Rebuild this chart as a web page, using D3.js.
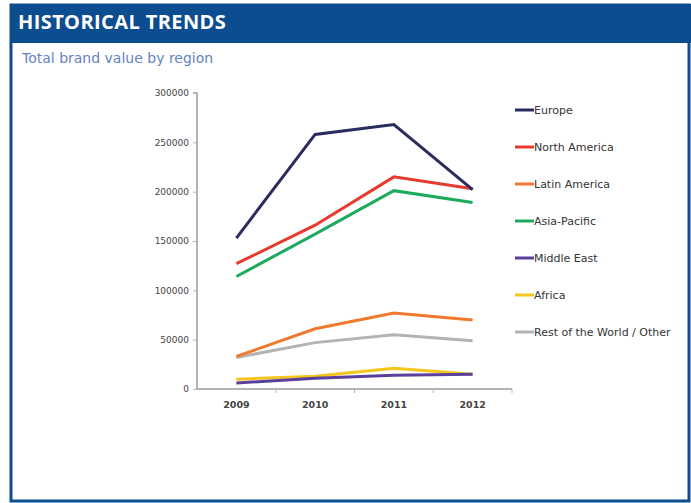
<!DOCTYPE html>
<html>
<head>
<meta charset="utf-8">
<script src="https://cdn.jsdelivr.net/npm/d3@7"></script>
<style>
  html, body { margin: 0; padding: 0; background: #fff; }
  svg { display: block; }
</style>
</head>
<body>
<svg id="chart" width="691" height="503"></svg>
<script>
// Years on the x axis
const years = ["2009", "2010", "2011", "2012"];

// Total brand value per region, one array per series
const europe       = [153000, 258000, 268000, 202000];
const northAmerica = [127000, 166000, 215000, 203000];
const latinAmerica = [33000, 61000, 77000, 70000];
const asiaPacific  = [114000, 157000, 201000, 189000];
const middleEast   = [6000, 11000, 14000, 15000];
const africa       = [10000, 13000, 21000, 15000];
const restOfWorld  = [32000, 47000, 55000, 49000];

const regionNames = ["Europe", "North America", "Latin America", "Asia-Pacific",
                     "Middle East", "Africa", "Rest of the World / Other"];
const regionValues = [europe, northAmerica, latinAmerica, asiaPacific,
                      middleEast, africa, restOfWorld];
const regionColors = ["#2a2c5e", "#e63b2e", "#ef7a2e", "#1eaa5e",
                      "#5b3f9c", "#f4c61c", "#b3b3b3"];

// Y axis tick values
const yTicks = [0, 50000, 100000, 150000, 200000, 250000, 300000];

const svg = d3.select("#chart");

// Frame: blue header band and bordered panel
svg.append("rect")
  .attr("x", 11).attr("y", 5).attr("width", 678).attr("height", 496)
  .attr("fill", "#fff").attr("stroke", "#0b4d8f").attr("stroke-width", 3);
svg.append("rect")
  .attr("x", 10).attr("y", 4).attr("width", 681).attr("height", 39)
  .attr("fill", "#0b4d8f");
svg.append("text")
  .attr("x", 18).attr("y", 29)
  .attr("fill", "#fff")
  .attr("font-family", "'Open Sans', 'DejaVu Sans', sans-serif")
  .attr("font-weight", "bold")
  .attr("font-size", 20)
  .attr("letter-spacing", 0.4)
  .text("HISTORICAL TRENDS");
svg.append("text")
  .attr("x", 22).attr("y", 63)
  .attr("fill", "#6582c2")
  .attr("font-family", "'DejaVu Sans', sans-serif")
  .attr("font-size", 14)
  .text("Total brand value by region");

// Plot area
const x0 = 197, x1 = 512, yTop = 93, yBottom = 389;

const x = d3.scaleBand().domain(years).range([x0, x1]);
const y = d3.scaleLinear().domain([0, 300000]).range([yBottom, yTop]);

const font = "'DejaVu Sans', sans-serif";

// Y axis
const yAxis = svg.append("g")
  .attr("transform", `translate(${x0},0)`)
  .call(d3.axisLeft(y).tickValues(yTicks).tickSize(4).tickPadding(4)
    .tickFormat(d3.format("d")));
yAxis.select(".domain").attr("stroke", "#9a9a9a").attr("stroke-width", 1.5)
  .attr("d", `M-4,${yTop}H0V${yBottom}`);
yAxis.selectAll(".tick line").attr("stroke", "#b5b5b5");
yAxis.selectAll(".tick text")
  .attr("font-family", font).attr("font-size", 9).attr("fill", "#444");

// X axis with ticks at band boundaries
const xAxis = svg.append("g")
  .attr("transform", `translate(0,${yBottom})`)
  .call(d3.axisBottom(x).tickSize(0).tickPadding(12));
xAxis.select(".domain").attr("stroke", "#9a9a9a").attr("stroke-width", 1.5)
  .attr("d", `M${x0},0H${x1}`);
xAxis.selectAll(".tick text")
  .attr("font-family", font).attr("font-size", 9.5).attr("font-weight", "bold").attr("fill", "#444");
xAxis.selectAll(".boundary")
  .data(years)
  .enter().append("line")
  .attr("class", "boundary")
  .attr("x1", d => x(d) + x.bandwidth()).attr("x2", d => x(d) + x.bandwidth())
  .attr("y1", 0).attr("y2", 4)
  .attr("stroke", "#b5b5b5");

// Series lines
const line = d3.line()
  .x((d, i) => x(years[i]) + x.bandwidth() / 2)
  .y(d => y(d));

const drawOrder = [6, 2, 5, 4, 3, 1, 0];
svg.append("g")
  .selectAll("path")
  .data(drawOrder)
  .enter().append("path")
  .attr("d", i => line(regionValues[i]))
  .attr("fill", "none")
  .attr("stroke", i => regionColors[i])
  .attr("stroke-width", 3)
  .attr("stroke-linejoin", "miter");

// Legend
const legend = svg.append("g").attr("transform", "translate(515,110)");
const item = legend.selectAll("g")
  .data(regionNames)
  .enter().append("g")
  .attr("transform", (d, i) => `translate(0,${i * 37})`);
item.append("line")
  .attr("x1", 0).attr("x2", 19).attr("y1", 0).attr("y2", 0)
  .attr("stroke", (d, i) => regionColors[i])
  .attr("stroke-width", 3);
item.append("text")
  .attr("x", 19).attr("y", 4)
  .attr("font-family", font).attr("font-size", 11).attr("fill", "#333")
  .text(d => d);
</script>
</body>
</html>
